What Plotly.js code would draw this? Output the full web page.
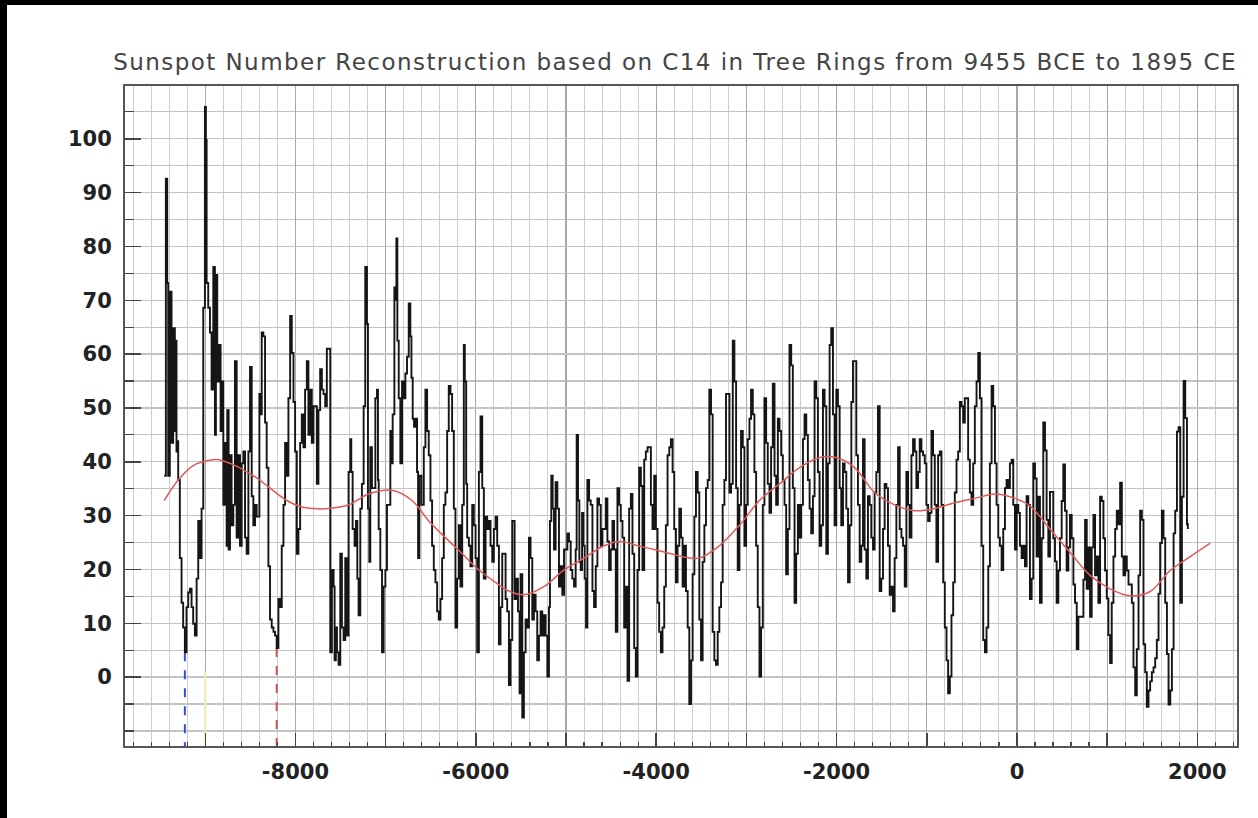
<!DOCTYPE html>
<html>
<head>
<meta charset="utf-8">
<script src="https://cdn.plot.ly/plotly-3.0.1.min.js"></script>
<style>
  html, body { margin: 0; padding: 0; background: #fff; }
  #wrap { border-top: 5px solid #000; border-left: 7px solid #000; width: 1251px; height: 813px; }
  #chart { width: 1251px; height: 813px; }
  #chart .gtitle { letter-spacing: 1.45px; }
</style>
</head>
<body>
<div id="wrap"><div id="chart"></div></div>
<script>
// ---------- DATA ----------
const chartTitle = "Sunspot Number Reconstruction based on C14 in Tree Rings from 9455 BCE to 1895 CE";

// Sunspot reconstruction, segment A (-9455 .. -7652)
const yearsA = [
  -9455,-9437,-9422,-9411,-9393,-9374,-9356,-9337,-9326,-9319,
  -9311,-9300,-9282,-9263,-9245,-9226,-9208,-9189,-9171,-9152,
  -9134,-9115,-9096,-9078,-9059,-9041,-9022,-9004,-8993,-8985,
  -8967,-8948,-8930,-8911,-8893,-8882,-8867,-8848,-8830,-8819,
  -8800,-8782,-8763,-8756,-8741,-8726,-8708,-8689,-8671,-8652,
  -8633,-8615,-8596,-8578,-8559,-8541,-8522,-8504,-8485,-8467,
  -8448,-8430,-8400,-8385,-8374,-8356,-8337,-8319,-8300,-8282,
  -8263,-8244,-8226,-8208,-8189,-8171,-8152,-8133,-8115,-8096,
  -8078,-8059,-8041,-8022,-8004,-7985,-7967,-7948,-7930,-7911,
  -7893,-7874,-7856,-7837,-7819,-7800,-7782,-7763,-7745,-7726,
  -7707,-7689,-7670,-7652];
const ssnA = [
  37.4,92.6,73.2,37.4,71.6,43.5,64.8,45.7,62.5,41.9,
  43.8,36.6,22.1,13.8,9.2,4.6,13.0,15.7,16.4,13.0,
  9.9,7.7,18.3,29.0,22.1,31.3,68.6,105.9,99.8,73.2,
  68.6,64.0,53.4,76.2,45.0,74.7,54.9,61.7,45.7,54.9,
  32.0,43.5,24.4,49.6,23.7,41.2,28.2,32.0,58.7,25.9,
  41.2,24.4,39.7,41.9,25.9,22.9,41.9,57.6,33.6,28.2,
  32.0,29.8,52.6,48.8,64.0,63.3,47.3,38.9,20.6,10.7,
  9.2,8.4,7.7,5.4,14.5,13.0,24.4,32.0,43.5,37.4,
  51.8,67.1,60.2,51.1,41.9,22.9,27.5,43.5,48.8,42.7,
  53.4,58.7,45.0,53.4,43.5,50.3,50.3,35.9,49.6,57.2,
  53.4,52.6,50.3,61.0];

// segment B (-7633 .. -5707)
const yearsB = [
  -7633,-7614,-7596,-7577,-7566,-7552,-7540,-7522,-7503,-7485,
  -7466,-7448,-7429,-7411,-7392,-7381,-7366,-7344,-7329,-7314,
  -7300,-7281,-7263,-7244,-7226,-7207,-7196,-7181,-7170,-7152,
  -7133,-7114,-7096,-7085,-7077,-7059,-7040,-7022,-7003,-6985,
  -6966,-6948,-6937,-6922,-6903,-6892,-6881,-6870,-6855,-6837,
  -6818,-6800,-6781,-6763,-6744,-6726,-6714,-6700,-6685,-6670,
  -6652,-6640,-6626,-6603,-6577,-6559,-6540,-6522,-6503,-6485,
  -6466,-6448,-6429,-6411,-6392,-6374,-6355,-6337,-6318,-6300,
  -6281,-6263,-6244,-6226,-6207,-6188,-6170,-6151,-6133,-6122,
  -6107,-6096,-6077,-6059,-6040,-6022,-6003,-5985,-5966,-5948,
  -5929,-5911,-5892,-5874,-5855,-5837,-5818,-5800,-5781,-5763,
  -5744,-5726,-5707];
const ssnB = [
  61.0,4.6,19.9,16.8,3.1,9.2,4.6,2.3,22.9,9.2,
  6.9,22.1,7.7,38.1,44.2,38.1,27.5,24.4,29.0,18.3,
  11.5,31.3,35.9,50.3,76.2,65.6,31.3,21.4,42.7,35.1,
  35.1,51.8,53.4,36.6,27.5,19.9,4.6,16.8,19.9,32.0,
  32.0,45.7,39.7,48.8,72.4,70.1,81.5,62.5,51.8,39.7,
  54.9,51.8,56.4,59.5,69.4,63.3,55.6,48.0,46.5,48.0,
  38.1,22.1,37.4,32.0,42.7,53.4,45.7,41.2,32.8,24.4,
  19.9,17.6,12.2,10.7,14.5,22.1,32.0,34.3,45.7,54.1,
  52.6,45.7,31.3,9.2,18.3,28.2,16.8,32.0,61.7,54.9,
  35.9,25.9,24.4,20.6,32.0,28.2,22.1,4.6,38.1,48.4,
  35.1,18.3,29.8,27.5,29.0,24.4,21.4,27.5,29.8,24.4,
  6.1,13.0,22.9];

// segment C (-5689 .. -3763)
const yearsC = [
  -5689,-5670,-5652,-5633,-5615,-5596,-5585,-5570,-5552,-5533,
  -5515,-5504,-5485,-5467,-5448,-5430,-5411,-5393,-5374,-5356,
  -5337,-5319,-5300,-5282,-5263,-5245,-5226,-5207,-5189,-5178,
  -5163,-5148,-5133,-5115,-5096,-5078,-5059,-5041,-5022,-5004,
  -4985,-4967,-4948,-4930,-4911,-4893,-4882,-4867,-4852,-4837,
  -4822,-4807,-4793,-4778,-4763,-4744,-4726,-4707,-4689,-4670,
  -4652,-4633,-4615,-4596,-4578,-4559,-4541,-4522,-4504,-4485,
  -4467,-4448,-4430,-4411,-4393,-4374,-4355,-4337,-4318,-4300,
  -4281,-4263,-4244,-4226,-4207,-4189,-4170,-4152,-4133,-4115,
  -4096,-4078,-4059,-4041,-4022,-4004,-3985,-3967,-3948,-3930,
  -3911,-3893,-3874,-3855,-3837,-3818,-3800,-3781,-3763];
const ssnC = [
  22.9,14.5,12.2,-1.5,6.9,29.0,29.0,14.5,18.3,12.2,
  -3.0,19.1,-7.5,4.6,10.7,9.2,25.9,22.1,10.7,15.3,
  12.2,3.1,7.7,12.2,7.7,11.5,7.7,0.1,13.0,29.0,
  37.4,31.3,23.7,36.2,31.3,16.8,20.6,15.3,23.7,23.7,
  26.7,25.2,19.9,18.3,16.8,23.7,45.0,32.8,21.4,19.9,
  30.5,24.4,18.3,9.2,36.6,32.8,32.0,16.0,13.0,20.6,
  33.2,32.0,24.4,27.5,27.5,33.2,25.2,19.9,23.7,29.0,
  23.7,8.4,35.1,32.0,29.0,25.9,9.2,16.8,-0.7,31.3,
  34.0,22.9,5.4,0.1,19.9,38.9,35.5,19.9,40.4,41.9,
  42.7,42.7,32.0,27.5,37.4,27.5,13.8,8.4,4.6,9.2,
  16.8,28.2,41.2,42.7,44.2,38.1,27.5,17.6,24.4];

// segment D (-3744 .. -1818)
const yearsD = [
  -3744,-3725,-3707,-3688,-3670,-3651,-3633,-3614,-3596,-3577,
  -3559,-3540,-3522,-3503,-3485,-3466,-3448,-3429,-3411,-3392,
  -3374,-3355,-3337,-3318,-3300,-3281,-3263,-3244,-3226,-3207,
  -3188,-3170,-3151,-3133,-3114,-3096,-3077,-3059,-3040,-3022,
  -3003,-2985,-2966,-2948,-2929,-2911,-2892,-2874,-2855,-2837,
  -2818,-2800,-2781,-2763,-2744,-2726,-2707,-2688,-2670,-2651,
  -2633,-2614,-2596,-2577,-2559,-2540,-2522,-2503,-2485,-2466,
  -2448,-2429,-2410,-2392,-2373,-2355,-2336,-2318,-2299,-2281,
  -2262,-2244,-2225,-2207,-2188,-2170,-2151,-2133,-2114,-2096,
  -2077,-2059,-2040,-2022,-2003,-1985,-1966,-1948,-1929,-1911,
  -1892,-1873,-1855,-1836,-1818];
const ssnD = [
  31.3,25.9,16.8,24.4,16.0,9.2,-5.0,3.1,19.1,29.8,
  38.1,34.3,10.7,3.1,21.4,28.2,35.1,36.6,53.4,48.8,
  8.4,3.1,2.3,8.4,13.0,17.6,32.0,36.6,52.6,52.6,
  34.3,35.9,62.5,54.9,35.1,19.9,32.0,45.7,42.7,24.4,
  32.0,44.2,48.0,53.4,48.8,38.1,24.4,13.0,0.1,9.2,
  32.0,51.8,43.5,35.9,30.5,42.7,54.5,37.4,32.0,48.0,
  45.7,41.2,36.6,32.0,19.1,27.5,61.7,57.9,35.1,13.8,
  22.9,32.0,25.9,32.0,44.2,48.8,45.0,36.6,31.3,26.7,
  33.6,54.9,51.8,38.1,24.4,28.2,53.4,50.3,22.9,39.7,
  61.7,64.8,48.8,28.2,53.4,50.3,35.1,28.2,39.7,38.1,
  31.3,17.6,28.2,51.1,58.7];

// segment E (-1800 .. 181)
const yearsE = [
  -1800,-1781,-1763,-1744,-1726,-1707,-1689,-1670,-1652,-1633,
  -1615,-1596,-1578,-1559,-1541,-1522,-1504,-1485,-1467,-1448,
  -1430,-1411,-1393,-1374,-1356,-1337,-1318,-1300,-1281,-1263,
  -1244,-1226,-1207,-1189,-1170,-1152,-1133,-1115,-1096,-1078,
  -1059,-1041,-1022,-1004,-985,-967,-948,-930,-911,-893,
  -874,-855,-837,-818,-800,-781,-763,-744,-726,-707,
  -689,-670,-652,-633,-615,-596,-578,-559,-541,-522,
  -504,-485,-467,-448,-429,-411,-392,-374,-355,-337,
  -318,-300,-281,-263,-244,-226,-207,-189,-170,-152,
  -133,-115,-96,-78,-59,-41,-22,-4,15,33,
  52,70,89,107,126,144,163,181];
const ssnE = [
  58.7,41.2,32.0,21.4,24.4,44.2,23.7,18.3,33.6,32.0,
  25.9,23.7,34.3,38.1,50.3,16.0,18.3,27.5,35.9,35.1,
  24.4,15.3,16.8,12.2,22.1,32.0,42.7,27.5,25.9,24.4,
  16.8,38.1,32.0,25.9,41.2,44.2,41.9,35.1,38.1,44.2,
  41.9,41.2,39.7,32.0,29.0,30.5,45.7,41.2,32.0,21.4,
  41.2,41.9,32.0,17.6,9.2,3.1,-3.0,0.1,11.5,17.6,
  34.3,40.4,41.9,51.1,50.3,47.3,51.8,51.8,40.4,34.3,
  32.0,39.7,50.3,54.9,60.2,51.8,24.4,6.9,4.6,9.2,
  20.6,39.7,54.1,50.3,39.7,32.0,25.9,24.4,19.9,27.5,
  35.1,36.6,35.1,39.7,40.4,32.0,23.7,32.0,30.5,24.4,
  22.1,24.4,20.6,33.6,32.0,14.5,18.3,39.7];

// segment F (200 .. 1895)
const yearsF = [
  200,218,237,255,274,292,311,329,348,366,
  385,403,422,440,459,477,496,514,533,551,
  570,588,607,626,644,663,681,700,718,737,
  755,774,792,811,829,848,866,885,903,922,
  940,959,977,996,1014,1033,1051,1070,1089,1107,
  1126,1144,1163,1181,1200,1218,1237,1255,1274,1292,
  1311,1329,1348,1366,1385,1403,1422,1440,1459,1477,
  1496,1514,1533,1551,1570,1588,1607,1625,1644,1663,
  1681,1700,1718,1737,1755,1774,1792,1811,1829,1848,
  1866,1885,1895];
const ssnF = [
  36.9,22.4,33.5,13.8,25.8,47.3,42.1,29.2,22.4,34.4,
  34.4,25.8,21.5,13.8,19.8,25.8,32.7,39.5,30.9,19.8,
  24.1,30.1,25.8,17.2,13.8,5.2,11.2,11.2,11.2,18.1,
  29.2,16.4,24.1,11.2,24.1,30.1,18.9,22.4,13.8,33.5,
  32.7,25.8,19.8,14.6,7.8,2.6,13.8,22.4,27.5,30.9,
  28.4,36.1,22.4,18.9,22.4,19.8,17.2,17.2,13.8,1.8,
  -3.4,5.2,18.9,30.9,29.2,6.1,0.9,-5.5,-2.5,-0.8,
  0.9,1.8,3.5,6.9,15.5,24.9,30.9,25.8,13.8,4.3,
  -5.1,-2.5,5.2,26.7,30.9,45.6,46.4,13.8,33.5,55.0,
  48.1,28.4,27.5];

// smoothed (red) curve
const smoothYears = [
  -9455,-9300,-9134,-9022,-8874,-8726,-8578,-8430,-8282,-8096,
  -7948,-7800,-7633,-7411,-7189,-6929,-6707,-6522,-6337,-6151,
  -5966,-5781,-5633,-5467,-5245,-5022,-4800,-4578,-4393,-4207,
  -4022,-3837,-3744,-3522,-3300,-3077,-2855,-2633,-2410,-2188,
  -2003,-1800,-1578,-1356,-1133,-911,-689,-467,-244,-22,
  144,366,588,811,1033,1255,1477,1700,1922,2144];
const smoothSSN = [
  32.8,36.6,39.3,40.0,40.4,39.7,38.5,37.0,35.1,32.8,
  31.7,31.3,31.3,32.0,34.0,34.7,32.8,29.0,25.9,22.9,
  19.9,17.6,16.0,15.3,16.8,19.9,22.1,24.4,25.2,24.4,
  23.7,22.9,22.5,22.1,24.4,28.2,32.8,35.9,38.9,40.8,
  40.8,38.9,34.3,32.0,30.9,31.3,32.4,33.2,34.0,33.2,
  31.8,27.5,23.2,18.9,16.4,15.1,15.9,19.8,22.4,24.9];

// marked minima (dashed markers)
const eventYears = [-9226, -8208, -9000];
const eventTops = [4.6, 5.4, 1.0];

// axis ticks
const xTickVals = [-9000,-8000,-7000,-6000,-5000,-4000,-3000,-2000,-1000,0,1000,2000];
const xTickText = ["","-8000","","-6000","","-4000","","-2000","","0","","2000"];
const yTickVals = [0,10,20,30,40,50,60,70,80,90,100];
const yTickText = ["0","10","20","30","40","50","60","70","80","90","100"];

// ---------- BUILD ----------
const segY = [yearsA, yearsB, yearsC, yearsD, yearsE, yearsF];
const segV = [ssnA, ssnB, ssnC, ssnD, ssnE, ssnF];
segY.forEach((a, i) => { if (a.length !== segV[i].length) throw new Error("segment " + i + " length mismatch " + a.length + " vs " + segV[i].length); });
if (smoothYears.length !== smoothSSN.length) throw new Error("smooth mismatch");
const years = [].concat(...segY);
const ssn = [].concat(...segV);

const yRange = [-12.8, 109.8];
const eventColors = ['#3050e0', '#d05050', '#f0eab0'];

const traces = [];
eventYears.forEach((yr, i) => {
  traces.push({
    x: [yr, yr], y: [eventTops[i], yRange[0]],
    type: 'scatter', mode: 'lines', hoverinfo: 'skip',
    line: { color: eventColors[i], width: 2, dash: i === 2 ? 'solid' : 'dash' }
  });
});
traces.push({
  x: years, y: ssn, type: 'scatter', mode: 'lines',
  line: { color: '#151515', width: 1.9, shape: 'hv' }
});
traces.push({
  x: smoothYears, y: smoothSSN, type: 'scatter', mode: 'lines',
  line: { color: '#e05a5a', width: 1.5, shape: 'spline', smoothing: 1 }
});

const tickFont = { family: 'DejaVu Sans', size: 21, color: '#222', weight: 'bold' };

const layout = {
  width: 1251, height: 813,
  margin: { l: 118, r: 21, t: 81, b: 72, pad: 0 },
  paper_bgcolor: '#ffffff', plot_bgcolor: '#ffffff',
  showlegend: false, hovermode: false,
  title: {
    text: chartTitle, xref: 'container', x: 0.534, xanchor: 'center',
    yref: 'container', y: 0.930, yanchor: 'middle',
    font: { family: 'DejaVu Sans', size: 23, color: '#444' }
  },
  xaxis: {
    range: [-9890, 2440], tickmode: 'array', tickvals: xTickVals, ticktext: xTickText,
    ticks: 'inside', ticklen: 13, tickwidth: 1.5, tickcolor: '#444',
    showgrid: true, gridcolor: '#a8a8a8', gridwidth: 1.2,
    minor: { tick0: 0, dtick: 200, ticks: 'inside', ticklen: 4, tickwidth: 1.2, tickcolor: '#444',
             showgrid: true, gridcolor: '#cfcfcf', gridwidth: 1 },
    showline: true, linecolor: '#555', linewidth: 2, mirror: true, zeroline: false,
    tickfont: tickFont, ticklabelstandoff: 6
  },
  yaxis: {
    range: yRange, tickmode: 'array', tickvals: yTickVals, ticktext: yTickText,
    ticks: 'inside', ticklen: 16, tickwidth: 1.5, tickcolor: '#444',
    showgrid: true, gridcolor: '#c4c4c4', gridwidth: 1.3,
    minor: { tick0: 0, dtick: 5, ticks: 'inside', ticklen: 9, tickwidth: 1.2, tickcolor: '#444',
             showgrid: true, gridcolor: '#c4c4c4', gridwidth: 1.3 },
    showline: true, linecolor: '#555', linewidth: 2, mirror: true, zeroline: false,
    tickfont: tickFont, ticklabelstandoff: 7
  }
};

Plotly.newPlot('chart', traces, layout, { displayModeBar: false, staticPlot: true });
</script>
</body>
</html>
